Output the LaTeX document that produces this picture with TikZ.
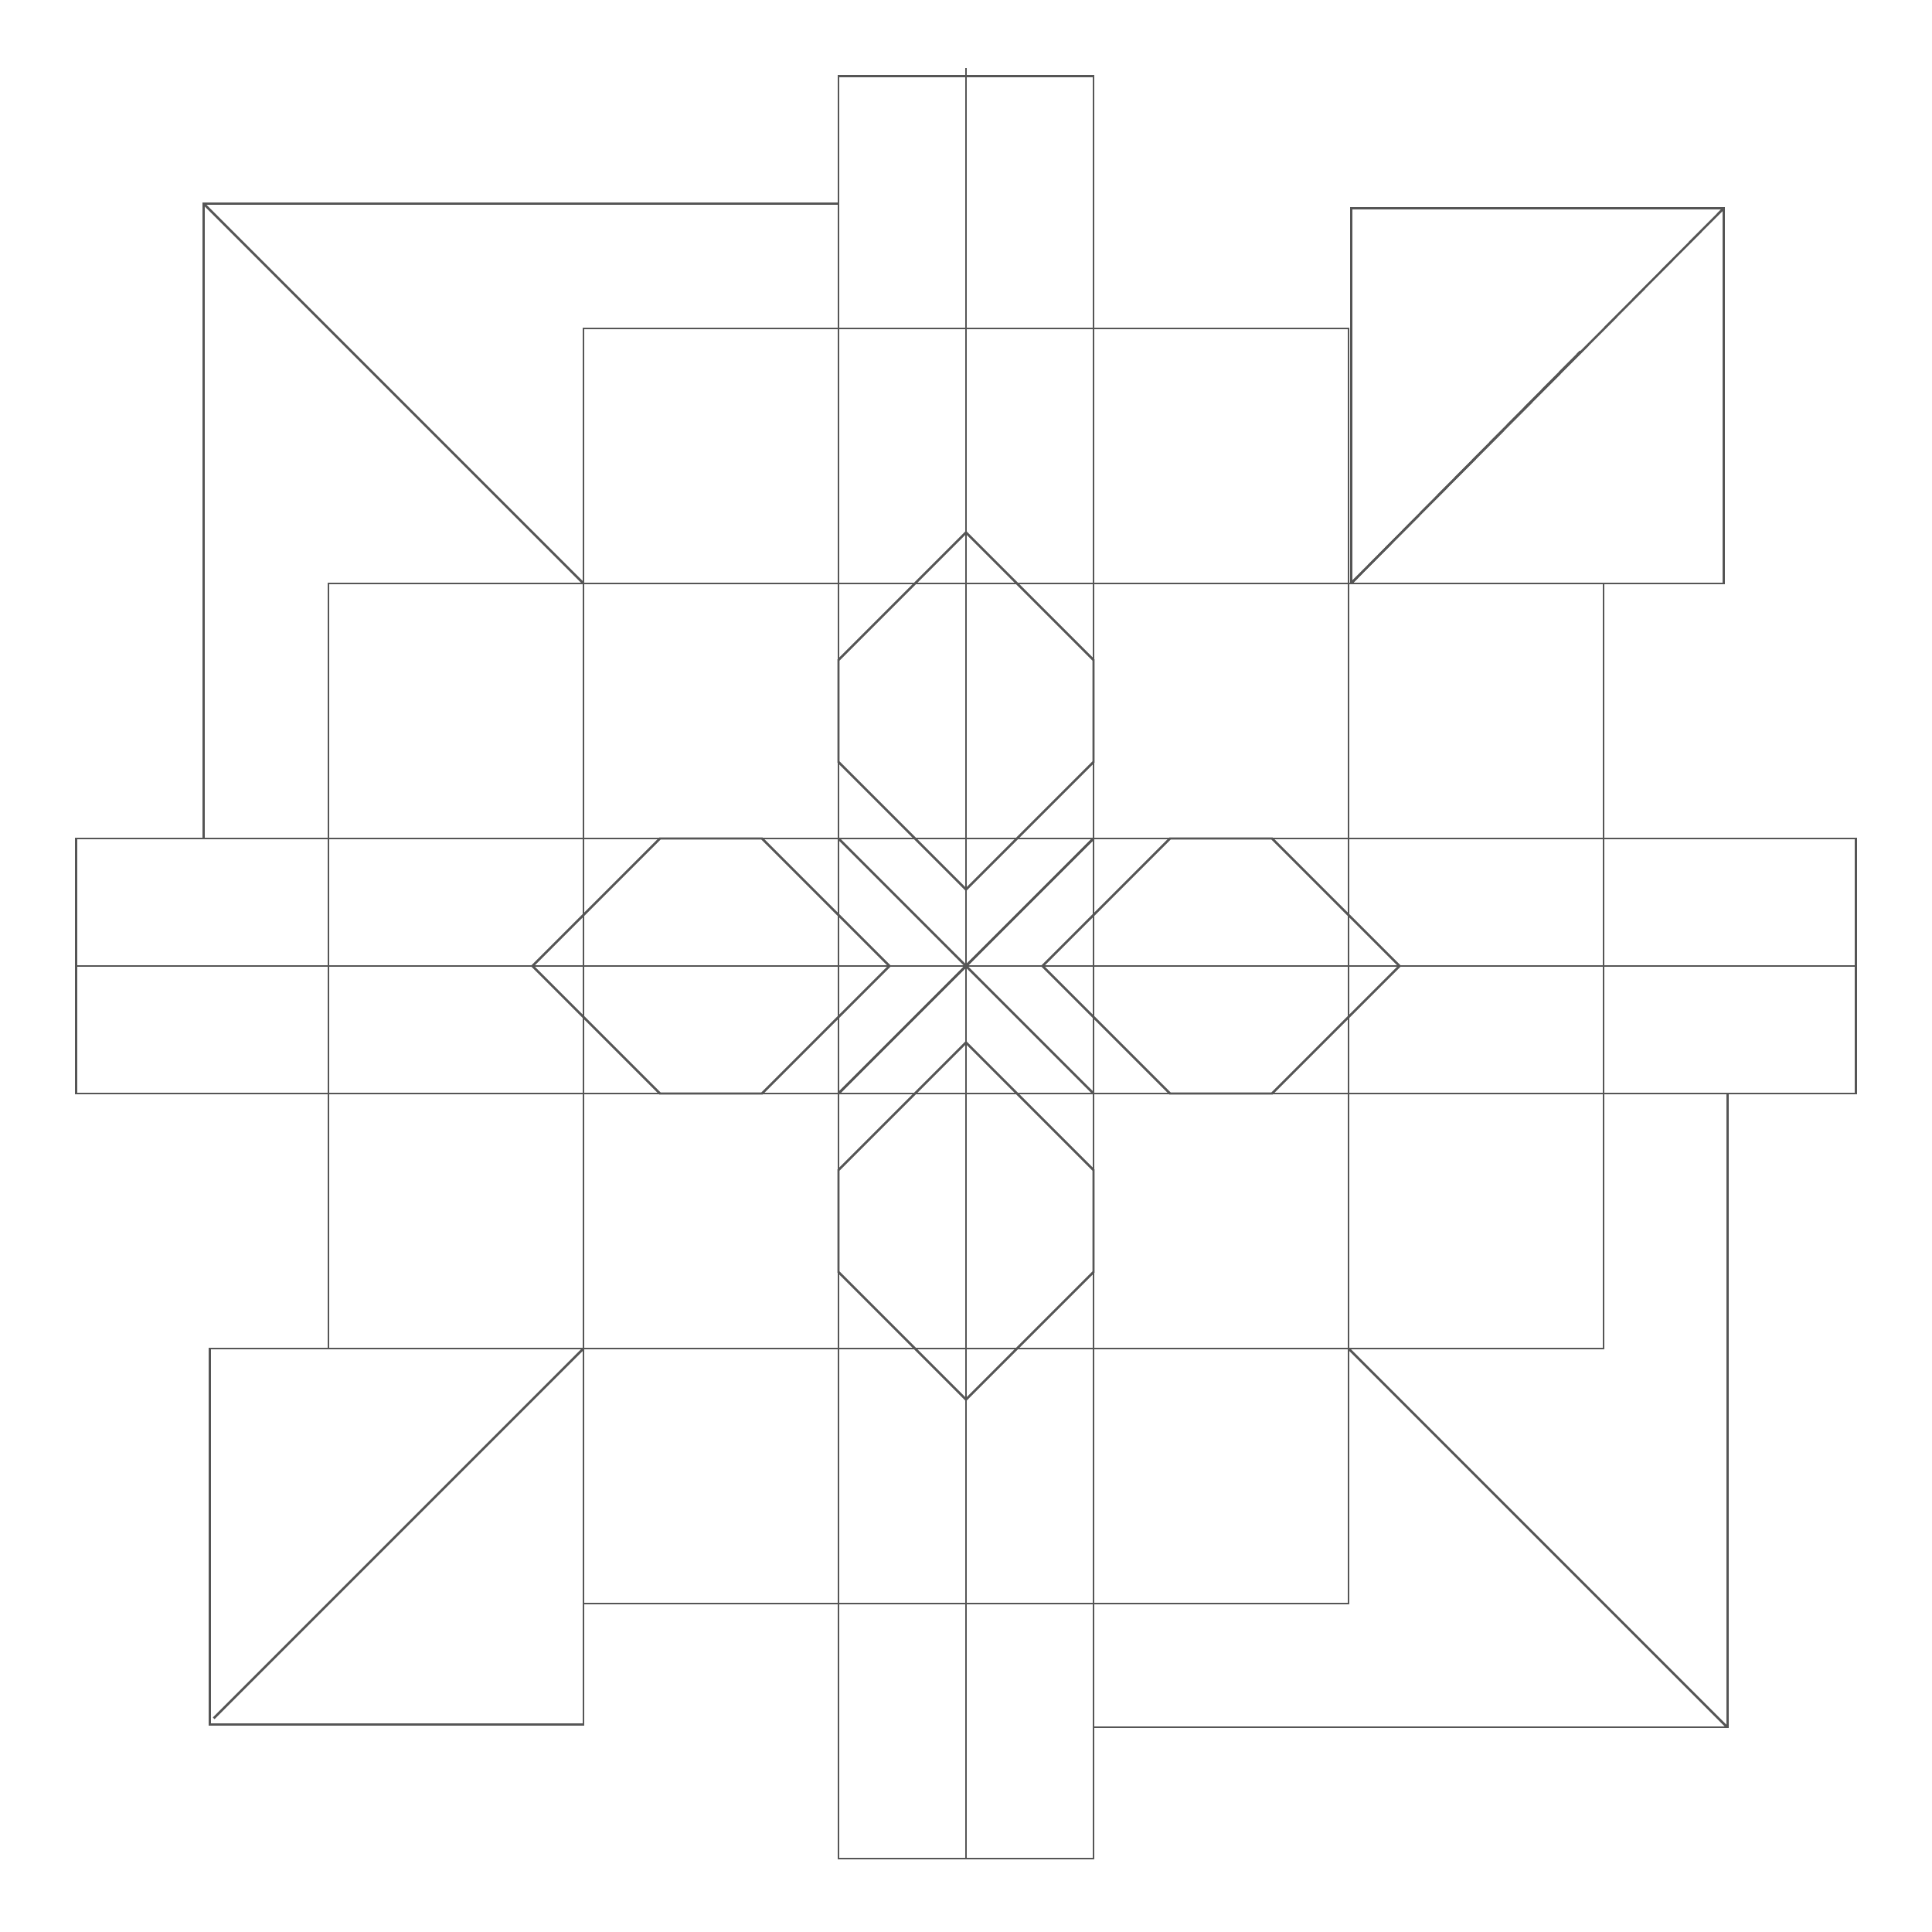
\documentclass[tikz,border=0pt]{standalone}
\definecolor{linegray}{HTML}{555555}
\begin{document}
\begin{tikzpicture}[line width=0.25pt, color=linegray]
\useasboundingbox (-3.788,-3.788) rectangle (3.788,3.788);

% the two strips through the middle
\draw (-0.5,-3.5) rectangle (0.5,3.49);
\draw (-3.49,-0.5) rectangle (3.49,0.5);
\draw (0,-3.5) -- (0,3.52);
\draw (-3.49,0) -- (3.49,0);

% frames round the centre
\draw (-1.5,-2.5) rectangle (1.5,2.5);
\draw (-2.5,-1.5) rectangle (2.5,1.5);

% corners
\draw (-0.5,2.99) -- (-2.99,2.99) -- (-2.99,0.5);
\draw (-2.99,2.99) -- (-1.5,1.5);
\draw (1.51,1.5) rectangle (2.97,2.97);
\draw (1.51,1.5) -- (2.97,2.97);
\draw (1.51,1.5) -- (2.41,2.41);
\draw (-1.5,-1.5) rectangle (-2.965,-2.975);
\draw (-1.5,-1.5) -- (-2.95,-2.95);
\draw (0.5,-2.985) -- (2.985,-2.985) -- (2.985,-0.5);
\draw (1.5,-1.5) -- (2.985,-2.985);

% centre cross
\draw (-0.5,-0.5) -- (0.5,0.5);
\draw (-0.5,-0.5) -- (0.5,0.5);
\draw (-0.5,0.5) -- (0.5,-0.5);

% the four hexagons
\foreach \ang in {0,90,180,270}
  \draw[rotate=\ang] (0,1.7) -- (0.5,1.2) -- (0.5,0.8) -- (0,0.3)
    -- (-0.5,0.8) -- (-0.5,1.2) -- cycle;
\end{tikzpicture}
\end{document}
